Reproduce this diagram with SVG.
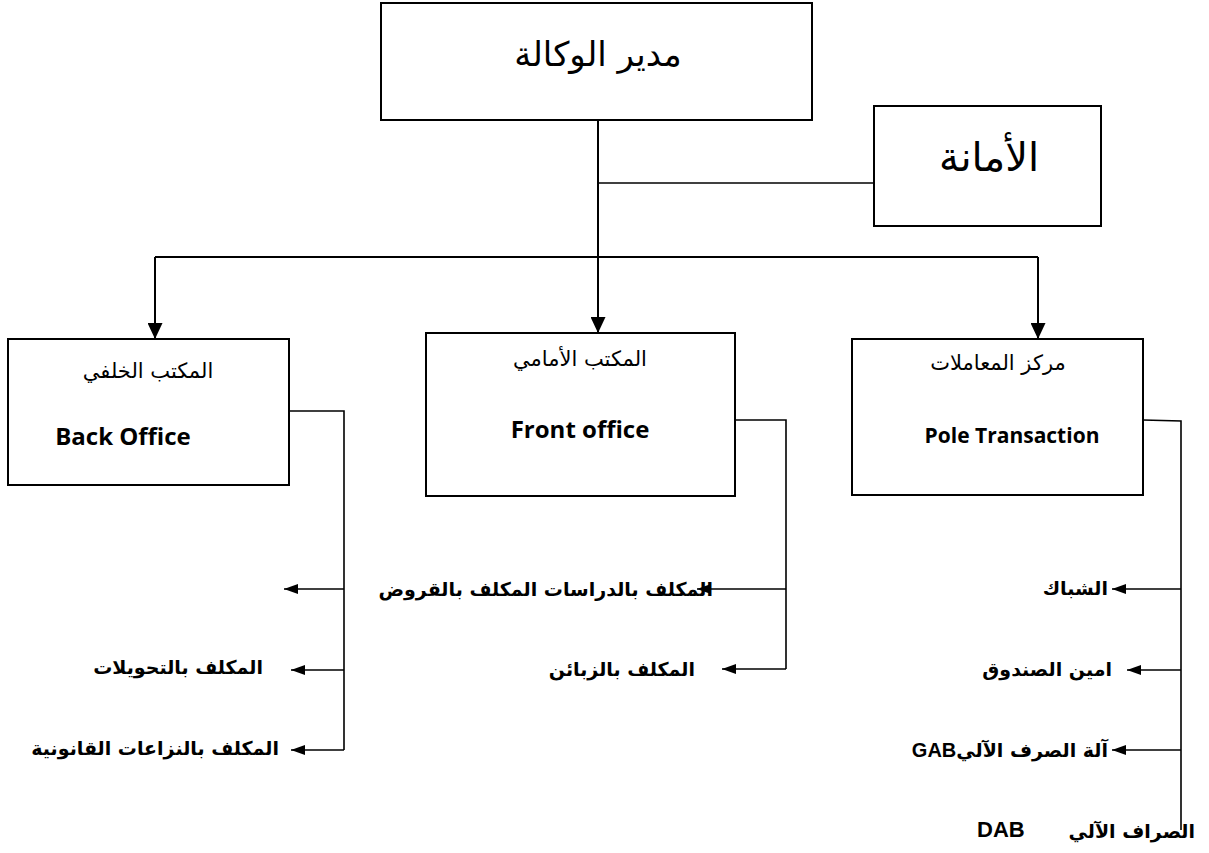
<svg xmlns="http://www.w3.org/2000/svg" width="1209" height="853" viewBox="0 0 1209 853">
  <style>
    .box { fill: #ffffff; stroke: #000000; stroke-width: 2; }
    .line { fill: none; stroke: #000000; stroke-width: 2; }
    .thin { fill: none; stroke: #000000; stroke-width: 1.6; }
    .title { font-family: "DejaVu Serif", "DejaVu Sans", serif; fill: #000; }
    .sub { font-family: "DejaVu Sans", sans-serif; font-size: 21px; fill: #000; }
    .en { font-family: "Open Sans", "Liberation Sans", sans-serif; font-weight: bold; font-size: 24px; fill: #000; }
    .en-small { font-size: 21px; }
    .lbl { font-family: "DejaVu Sans", sans-serif; font-weight: bold; font-size: 19px; fill: #000; }
    .lat { font-family: "Liberation Sans", Arial, sans-serif; font-weight: bold; font-size: 20px; fill: #000; }
    .lat-big { font-size: 22px; }
  </style>
  <defs>
    <marker id="down" markerWidth="15" markerHeight="16" refX="7.5" refY="16" orient="0" markerUnits="userSpaceOnUse">
      <path d="M0,0 L15,0 L7.5,16 Z" fill="#000"/>
    </marker>
    <marker id="left" markerWidth="14" markerHeight="10" refX="0" refY="5" orient="0" markerUnits="userSpaceOnUse">
      <path d="M0,5 L14,0 L14,10 Z" fill="#000"/>
    </marker>
  </defs>

  <!-- agency director -->
  <g id="director">
    <rect class="box" x="381" y="3" width="431" height="117"/>
    <text class="title" x="598" y="66" font-size="34" text-anchor="middle">مدير الوكالة</text>
  </g>

  <!-- secretariat -->
  <g id="secretariat">
    <rect class="box" x="874" y="106" width="227" height="120"/>
    <text class="title" x="989" y="171" font-size="40" text-anchor="middle">الأمانة</text>
  </g>

  <!-- back office -->
  <g id="back-office">
    <rect class="box" x="8" y="339" width="281" height="146"/>
    <text class="sub" x="148" y="378" text-anchor="middle">المكتب الخلفي</text>
    <text class="en" x="123" y="445" text-anchor="middle">Back Office</text>
  </g>

  <!-- front office -->
  <g id="front-office">
    <rect class="box" x="426" y="333" width="309" height="163"/>
    <text class="sub" x="580" y="366" text-anchor="middle">المكتب الأمامي</text>
    <text class="en" x="580" y="438" text-anchor="middle">Front office</text>
  </g>

  <!-- transaction pole -->
  <g id="pole-transaction">
    <rect class="box" x="852" y="339" width="291" height="156"/>
    <text class="sub" x="998" y="370" text-anchor="middle">مركز المعاملات</text>
    <text class="en en-small" x="1012" y="443" text-anchor="middle">Pole Transaction</text>
  </g>

  <!-- staff labels -->
  <g id="back-office-staff">
    <text class="lbl" x="263" y="674" text-anchor="end">المكلف بالتحويلات</text>
    <text class="lbl" x="279" y="755" text-anchor="end">المكلف بالنزاعات القانونية</text>
  </g>
  <g id="front-office-staff">
    <text class="lbl" x="713" y="596" text-anchor="end">المكلف بالدراسات المكلف بالقروض</text>
    <text class="lbl" x="695" y="676" text-anchor="end">المكلف بالزبائن</text>
  </g>
  <g id="pole-staff">
    <text class="lbl" x="1108" y="595" text-anchor="end">الشباك</text>
    <text class="lbl" x="1112" y="676" text-anchor="end">امين الصندوق</text>
    <text class="lbl" x="1108" y="757" direction="rtl" text-anchor="start">آلة الصرف الآلي<tspan class="lat">GAB</tspan></text>
    <text class="lbl" x="1195" y="838" text-anchor="end">الصراف الآلي</text>
    <text class="lat lat-big" x="977" y="837">DAB</text>
  </g>

  <!-- connectors -->
  <g id="connectors">
    <path class="line" d="M598,120 V257"/>
    <path class="thin" d="M598,183 H874"/>
    <path class="line" d="M155,257 H1038"/>
    <path class="line" d="M155,257 V339" marker-end="url(#down)"/>
    <path class="line" d="M598,257 V333" marker-end="url(#down)"/>
    <path class="line" d="M1038,257 V339" marker-end="url(#down)"/>

    <path class="thin" d="M289,411 H344 V750"/>
    <path class="thin" d="M344,589 H284" marker-end="url(#left)"/>
    <path class="thin" d="M344,670 H291" marker-end="url(#left)"/>
    <path class="thin" d="M344,750 H291" marker-end="url(#left)"/>

    <path class="thin" d="M735,420 H786 V669"/>
    <path class="thin" d="M786,589 H697" marker-end="url(#left)"/>
    <path class="thin" d="M786,669 H722" marker-end="url(#left)"/>

    <path class="thin" d="M1143,420 L1181,421 V830"/>
    <path class="thin" d="M1181,589 H1112" marker-end="url(#left)"/>
    <path class="thin" d="M1181,670 H1127" marker-end="url(#left)"/>
    <path class="thin" d="M1181,750 H1112" marker-end="url(#left)"/>
  </g>
</svg>
